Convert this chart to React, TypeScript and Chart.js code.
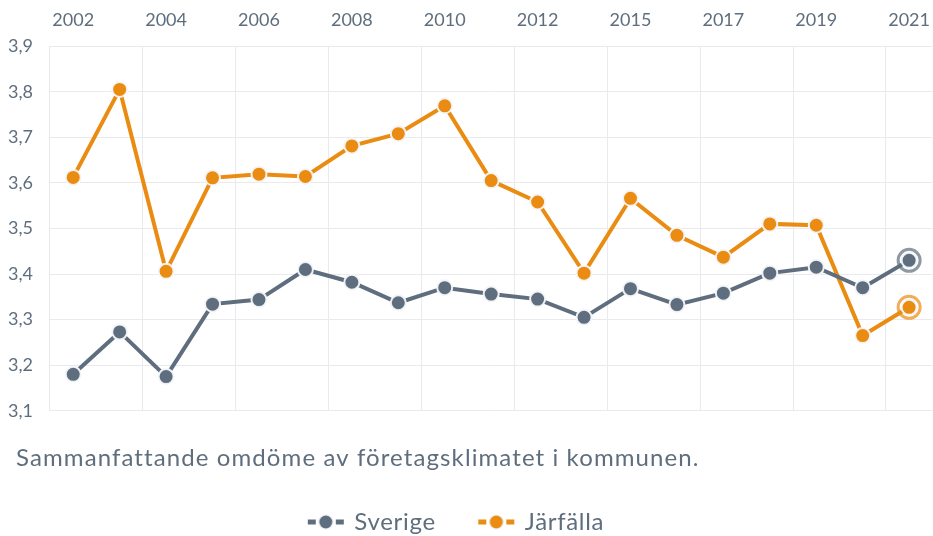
import React, { useEffect, useRef } from "react";
import { Chart, registerables } from "chart.js";

Chart.register(...registerables);

const categories = ["2002","2003","2004","2005","2006","2007","2008","2009","2010","2011","2012","2014","2015","2016","2017","2018","2019","2020","2021"];
const sverige = [3.18, 3.273, 3.175, 3.334, 3.344, 3.41, 3.382, 3.337, 3.37, 3.356, 3.345, 3.305, 3.368, 3.333, 3.358, 3.402, 3.415, 3.37, 3.43];
const jarfalla = [3.612, 3.805, 3.406, 3.611, 3.619, 3.614, 3.681, 3.708, 3.769, 3.605, 3.558, 3.402, 3.566, 3.485, 3.437, 3.51, 3.507, 3.265, 3.327];
const seriesNames = ["Sverige", "Järfälla"];
const seriesColors = ["#5f6e7e", "#eb8c12"];
const ringColors = ["rgba(95,110,126,0.7)", "rgba(235,140,18,0.7)"];
const caption = "Sammanfattande omdöme av företagsklimatet i kommunen.";

const FONT = "Lato, 'Open Sans', sans-serif";
const TEXT = "#5f6e7e";
const GRID = "#e8eaed";

function legendMarker(color: string) {
  const c = document.createElement("canvas");
  c.width = 38;
  c.height = 16;
  const ctx = c.getContext("2d")!;
  ctx.strokeStyle = color;
  ctx.lineWidth = 5;
  ctx.beginPath();
  ctx.moveTo(1, 8);
  ctx.lineTo(9, 8);
  ctx.moveTo(29, 8);
  ctx.lineTo(37, 8);
  ctx.stroke();
  ctx.beginPath();
  ctx.arc(19, 8, 8, 0, Math.PI * 2);
  ctx.fillStyle = "rgba(245,247,250,1)";
  ctx.fill();
  ctx.beginPath();
  ctx.arc(19, 8, 6.5, 0, Math.PI * 2);
  ctx.fillStyle = color;
  ctx.fill();
  return c;
}

const ringPlugin = {
  id: "lastRing",
  afterDatasetsDraw(chart: any) {
    const ctx = chart.ctx;
    chart.data.datasets.forEach((ds: any, i: number) => {
      const meta = chart.getDatasetMeta(i);
      const el = meta.data[meta.data.length - 1];
      if (!el) return;
      ctx.save();
      ctx.beginPath();
      ctx.arc(el.x, el.y, 11, 0, Math.PI * 2);
      ctx.lineWidth = 3;
      ctx.strokeStyle = ringColors[i];
      ctx.stroke();
      ctx.restore();
    });
  },
};

function wrapDraw(chart: any, box: any, dx: number, spacing: string) {
  if (!box || box.__wrapped) return;
  const orig = box.draw.bind(box);
  box.draw = (...args: any[]) => {
    const ctx = chart.ctx;
    ctx.save();
    ctx.translate(dx, 0);
    try { (ctx as any).letterSpacing = spacing; } catch (e) {}
    orig(...args);
    ctx.restore();
  };
  box.__wrapped = true;
}

const textTweakPlugin = {
  id: "textTweak",
  afterLayout(chart: any) {
    wrapDraw(chart, chart.titleBlock, 16, "1.1px");
    wrapDraw(chart, chart.legend, -15, "0.7px");
  },
};

export default function App() {
  const ref = useRef<HTMLCanvasElement>(null);
  useEffect(() => {
    const markers = seriesColors.map(legendMarker);
    const mk = (data: number[], i: number) => ({
      label: seriesNames[i],
      data,
      borderColor: seriesColors[i],
      backgroundColor: seriesColors[i],
      borderWidth: 4,
      pointRadius: 7.5,
      pointHoverRadius: 7.5,
      pointBorderWidth: 2,
      pointBorderColor: "rgba(245,247,250,0.95)",
      pointBackgroundColor: seriesColors[i],
      tension: 0,
    });
    const chart = new Chart(ref.current!, {
      type: "line",
      data: {
        labels: categories,
        datasets: [mk(sverige, 0), mk(jarfalla, 1)],
      },
      plugins: [ringPlugin, textTweakPlugin],
      options: {
        animation: false,
        responsive: true,
        maintainAspectRatio: false,
        layout: { autoPadding: false, padding: { left: 0, right: 0, top: 6, bottom: -8 } },
        scales: {
          x: {
            position: "top",
            offset: true,
            grid: {
              offset: true,
              color: (ctx: any) => (ctx.index % 2 === 0 ? GRID : "rgba(0,0,0,0)"),
              drawTicks: true,
              tickLength: 12.5,
              tickColor: "rgba(0,0,0,0)",
            },
            border: { display: false },
            ticks: {
              color: TEXT,
              font: { family: FONT, size: 18 },
              padding: 3,
              maxRotation: 0,
              autoSkip: false,
              callback: (_v: any, i: number) => (i % 2 === 0 ? categories[i] : ""),
            },
          },
          y: {
            min: 3.1,
            max: 3.9,
            grid: { color: GRID, drawTicks: false },
            border: { display: false },
            afterFit: (s: any) => { s.width = 50; },
            ticks: {
              stepSize: 0.1,
              color: TEXT,
              padding: 17,
              font: { family: FONT, size: 18 },
              callback: (v: any) => Number(v).toFixed(1).replace(".", ","),
            },
          },
        },
        plugins: {
          legend: {
            position: "bottom",
            weight: 1000,
            labels: {
              usePointStyle: true,
              pointStyleWidth: 33,
              padding: 44,
              color: TEXT,
              font: { family: FONT, size: 24 },
              generateLabels: () =>
                seriesNames.map((n, i) => ({
                  text: n,
                  fillStyle: seriesColors[i],
                  strokeStyle: seriesColors[i],
                  lineWidth: 0,
                  pointStyle: markers[i],
                  datasetIndex: i,
                  hidden: false,
                  fontColor: TEXT,
                })),
            },
          } as any,
          title: {
            display: true,
            text: caption,
            position: "bottom",
            align: "start",
            weight: 500,
            color: TEXT,
            font: { family: FONT, size: 24, weight: "normal", lineHeight: 0.8 },
            padding: { top: 38, bottom: -2 },
          } as any,
          tooltip: { enabled: false },
        },
      },
    });
    return () => chart.destroy();
  }, []);
  return (
    <div style={{ position: "fixed", left: 0, top: 0, width: 933, height: 536 }}>
      <canvas ref={ref} />
    </div>
  );
}
